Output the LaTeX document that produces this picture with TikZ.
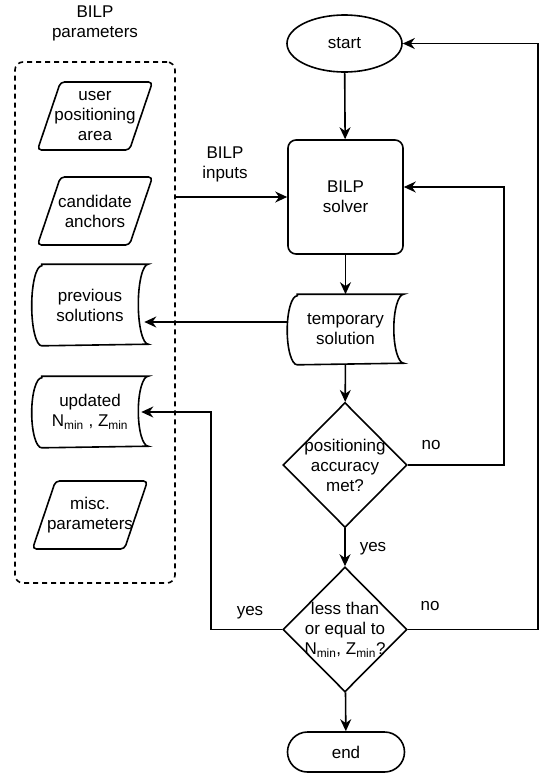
\documentclass[tikz,border=0pt]{standalone}
\usepackage{fontspec}
\setmainfont{Liberation Sans}
\usetikzlibrary{arrows.meta,positioning,shapes.geometric,shapes.misc}

% outline of a stored-data node (#1 node, #2 half height in pt)
\newcommand{\drawstore}[2]{%
  \draw[line width=1.6pt] ([xshift=10pt]#1.north west) -- (#1.north east)
    arc[start angle=90, end angle=270, x radius=10pt, y radius=#2pt]
    -- ([xshift=10pt]#1.south west)
    arc[start angle=270, end angle=90, x radius=10pt, y radius=#2pt] -- cycle;}
% outline of an input node (slanted box round #1)
\newcommand{\drawio}[1]{%
  \draw[line width=1.6pt, rounded corners=4pt, shift={(#1.center)}]
    (-57.5,34) -- (34.5,34) -- (57.5,-34) -- (-34.5,-34) -- cycle;}

\begin{document}
\begin{tikzpicture}[x=1pt, y=-1pt,
  base/.style={draw, line width=1.6pt, align=center, inner sep=0pt,
               font=\fontsize{17}{20}\selectfont},
  txt/.style={align=center, inner sep=0pt, font=\fontsize{17}{20}\selectfont},
  term/.style={base, ellipse, minimum width=115pt, minimum height=57pt},
  stopbox/.style={base, rounded rectangle, minimum width=117pt, minimum height=40pt},
  proc/.style={base, rectangle, rounded corners=8pt, minimum width=115pt, minimum height=114pt},
  store/.style={base, draw=none, minimum width=115pt},
  io/.style={txt},
  dec/.style={base, diamond, minimum width=124pt, minimum height=125pt},
  frame/.style={draw, line width=1.6pt, dash pattern=on 5pt off 4pt, rounded corners=8pt,
                minimum width=160pt, minimum height=521pt},
  arr/.style={-{Stealth[length=12pt,width=11pt]}, line width=1.6pt},
]
\useasboundingbox (0,0) rectangle (541,780);

% parameter group
\node[txt] (ptitle) at (95,23) {BILP\\parameters};
\node[frame] (params) at (95,322.5) {};
\node[io] (area) at (95,116) {user\\positioning\\area};
\node[io] (cand) at (95,211) {candidate\\anchors};
\node[store, minimum height=80pt] (prev) at (90,305) {previous\\solutions};
\node[store, minimum height=70pt] (upd) at (90,412) {updated\\N\textsubscript{min} , Z\textsubscript{min}};
\node[io] (misc) at (90,515) {misc.\\parameters};
\drawio{area}
\drawio{cand}
\drawio{misc}
\drawstore{prev}{40}
\drawstore{upd}{35}

% main flow
\node[term] (start) at (344.5,43.5) {start};
\node[proc] (solver) at (345.5,197) {BILP\\solver};
\node[store, minimum height=69pt] (temp) at (345.5,329.5) {temporary\\solution};
\drawstore{temp}{34.5}
\node[dec, label={[txt]center:{positioning\\accuracy\\met?}}] (acc) at (345,465) {};
\node[dec, label={[txt]center:{less than\\or equal to\\N\textsubscript{min}, Z\textsubscript{min}?}}] (cmp) at (345,629.5) {};
\node[stopbox] (end) at (346,752) {end};

\draw[arr] (start) -- (solver);
\draw[arr] (solver) -- (temp);
\draw[arr] (temp) -- (acc);
\draw[arr] (acc) -- (cmp);
\draw[arr] (cmp) -- (end);

% loops back
\draw[arr] (acc.east) -| (504,187) -- ([yshift=10pt]solver.east);
\draw[arr] (cmp.east) -| (538,43.5) -- (start.east);
\draw[arr] (cmp.west) -| (211,412) -- ([xshift=-7pt]upd.east);
\draw[arr] ([yshift=7.5pt]temp.west) -- ([yshift=7.5pt,xshift=-4pt]temp.west -| prev.east);
\draw[arr] (params.east |- solver) -- (solver.west);

% edge labels
\node[txt] (inlbl) at (225,164) {BILP\\inputs};
\node[txt] (yes1) at (373,549) {yes};
\node[txt] (no1) at (431,445) {no};
\node[txt] (no2) at (430,606) {no};
\node[txt] (yes2) at (250,613) {yes};

\end{tikzpicture}
\end{document}
